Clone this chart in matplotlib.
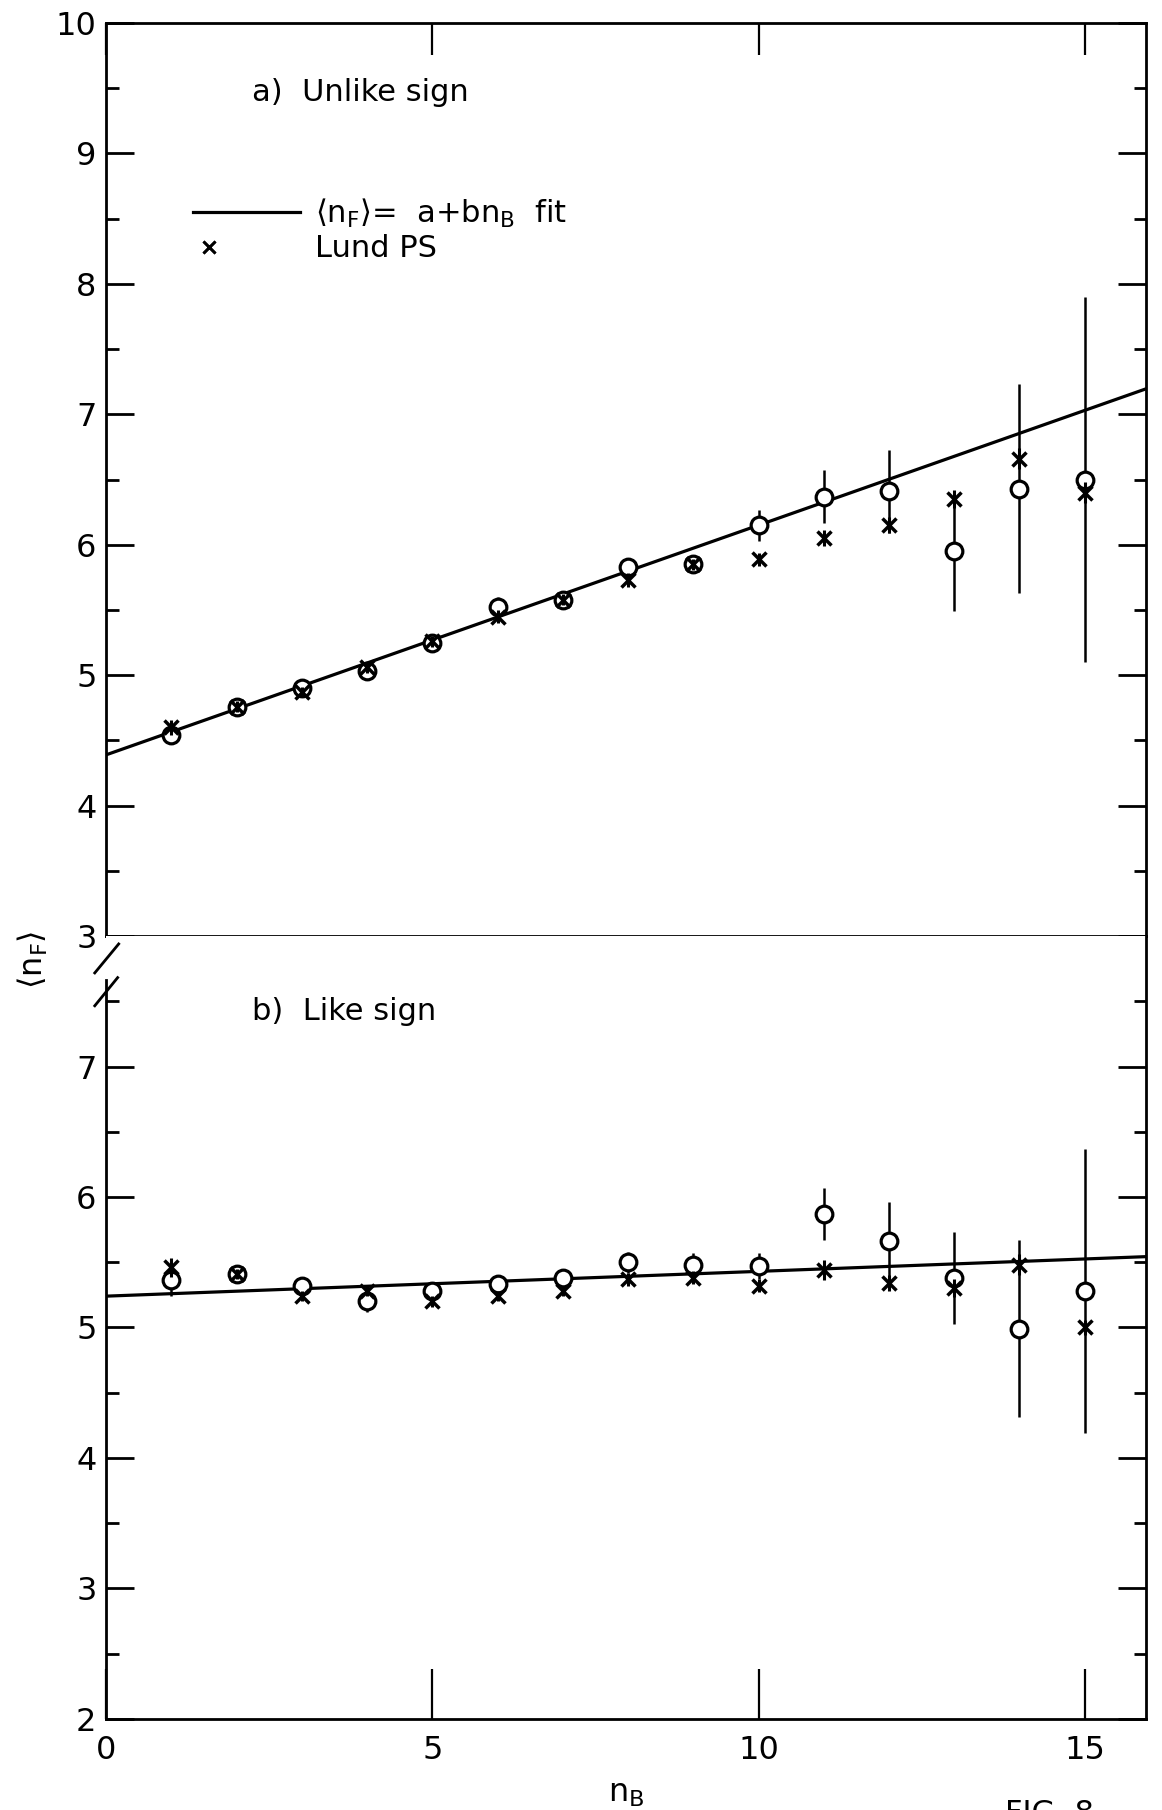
import numpy as np
import matplotlib.pyplot as plt
from matplotlib.lines import Line2D
from matplotlib.legend_handler import HandlerLine2D

# ============================
# Data
# ============================
n_b = [1, 2, 3, 4, 5, 6, 7, 8, 9, 10, 11, 12, 13, 14, 15]

# a) unlike sign
unlike_nf = [4.54, 4.76, 4.90, 5.03, 5.25, 5.52, 5.58, 5.83, 5.85, 6.15, 6.37, 6.41, 5.95, 6.43, 6.50]
unlike_err = [0.07, 0.05, 0.05, 0.05, 0.05, 0.08, 0.05, 0.06, 0.05, 0.12, 0.20, 0.32, 0.46, 0.80, 1.40]
unlike_lund = [4.60, 4.76, 4.87, 5.06, 5.26, 5.45, 5.58, 5.73, 5.85, 5.89, 6.05, 6.15, 6.35, 6.66, 6.40]
unlike_lund_err = [0.06, 0.04, 0.04, 0.04, 0.04, 0.05, 0.04, 0.05, 0.04, 0.05, 0.06, 0.06, 0.07, 0.08, 0.08]
unlike_fit = [4.39, 0.176]  # a, b

# b) like sign
like_nf = [5.36, 5.41, 5.32, 5.20, 5.28, 5.33, 5.38, 5.50, 5.48, 5.47, 5.87, 5.66, 5.38, 4.99, 5.28]
like_err = [0.12, 0.05, 0.05, 0.08, 0.05, 0.05, 0.05, 0.08, 0.09, 0.10, 0.20, 0.30, 0.35, 0.68, 1.09]
like_lund = [5.46, 5.41, 5.24, 5.28, 5.20, 5.24, 5.28, 5.37, 5.38, 5.32, 5.44, 5.34, 5.30, 5.48, 5.00]
like_lund_err = [0.07, 0.04, 0.04, 0.04, 0.04, 0.04, 0.04, 0.05, 0.05, 0.05, 0.08, 0.06, 0.07, 0.08, 0.06]
like_fit = [5.24, 0.019]

x_max = 15.94

plt.rcParams['font.family'] = 'DejaVu Sans'
plt.rcParams['mathtext.fontset'] = 'dejavusans'

fig = plt.figure(figsize=(11.62, 18.10), dpi=100)
ax1 = fig.add_axes([0.0914, 0.4828, 0.8948, 0.5045])
ax2 = fig.add_axes([0.0914, 0.0504, 0.8948, 0.4324])


def draw_panel(ax, nf, err, lund, lund_err, fit):
    xs = np.array([0, x_max])
    ax.plot(xs, fit[0] + fit[1] * xs, color='black', lw=2.3, zorder=2)
    ax.errorbar(n_b, nf, yerr=err, fmt='o', ms=12, mfc='white', mec='black',
                mew=2.3, ecolor='black', elinewidth=1.8, capsize=0, zorder=3)
    ax.errorbar(n_b, lund, yerr=lund_err, fmt='x', ms=10, color='black',
                mew=2.5, elinewidth=2.2, capsize=0, zorder=4)
    for s in ax.spines.values():
        s.set_linewidth(2.0)
    ax.set_xticks([0, 5, 10, 15])
    ax.tick_params(axis='y', which='major', direction='in', length=20, width=2,
                   left=True, right=True, labelsize=23, pad=7)
    ax.tick_params(axis='y', which='minor', direction='in', length=9, width=2,
                   left=True, right=True)


draw_panel(ax1, unlike_nf, unlike_err, unlike_lund, unlike_lund_err, unlike_fit)
draw_panel(ax2, like_nf, like_err, like_lund, like_lund_err, like_fit)

ax1.set_yticks(np.arange(3, 11, 1))
ax1.set_yticks(np.arange(3, 10.5, 0.5), minor=True)
ax2.set_yticks(np.arange(2, 8, 1))
ax2.set_yticks(np.arange(2, 8, 0.5), minor=True)

ax1.set_xlim(0, x_max)
ax2.set_xlim(0, x_max)
ax1.set_ylim(3, 10)
ax2.set_ylim(2, 8)

ax1.tick_params(axis='x', which='major', direction='in', length=23, width=1.6,
                top=True, bottom=False, labelbottom=False)
ax2.tick_params(axis='x', which='major', direction='in', length=36, width=1.6,
                top=False, bottom=True, labelsize=23, pad=12)

# broken axis
ax2.spines['top'].set_visible(False)
ax2.spines['left'].set_bounds(2, 7.66)
kw = dict(color='black', lw=2, clip_on=False, transform=ax2.transAxes)
ax2.plot([-0.011, 0.012], [0.953, 0.990], **kw)
ax2.plot([-0.011, 0.011], [0.911, 0.947], **kw)

# labels
ax2.set_xlabel(r'$\mathregular{n_B}$', fontsize=23, labelpad=8)
fig.text(0.028, 0.47, r'$\mathregular{\langle n_F\rangle}$', rotation=90,
         fontsize=23, ha='center', va='center')

ax1.text(0.14, 0.924, 'a)  Unlike sign', transform=ax1.transAxes,
         fontsize=22, va='center', ha='left')
ax2.text(0.14, 0.904, 'b)  Like sign', transform=ax2.transAxes,
         fontsize=22, va='center', ha='left')


# legend marker sits near the left end of the key, as in the original
class LeftMarkerHandler(HandlerLine2D):
    def get_xdata(self, legend, xdescent, ydescent, width, height, fontsize):
        pos = -xdescent + 0.15 * width
        return [pos, pos], [pos, pos]


fit_handle = Line2D([], [], color='black', lw=2.3)
lund_handle = Line2D([], [], marker='x', ls='none', color='black', ms=9, mew=2)
labels = [r'$\mathregular{\langle n_F\rangle}$=  a+b$\mathregular{n_B}$  fit', 'Lund PS']
ax1.legend([fit_handle, lund_handle], labels, loc='upper left',
           bbox_to_anchor=(0.057, 0.84), frameon=False, fontsize=22,
           handlelength=3.5, handletextpad=0.5, labelspacing=0.15,
           handler_map={lund_handle: LeftMarkerHandler(numpoints=2)})

fig.text(0.865, 0.006, 'FIG. 8', fontsize=22, va='top', ha='left')

fig.savefig('out.png', dpi=100)
